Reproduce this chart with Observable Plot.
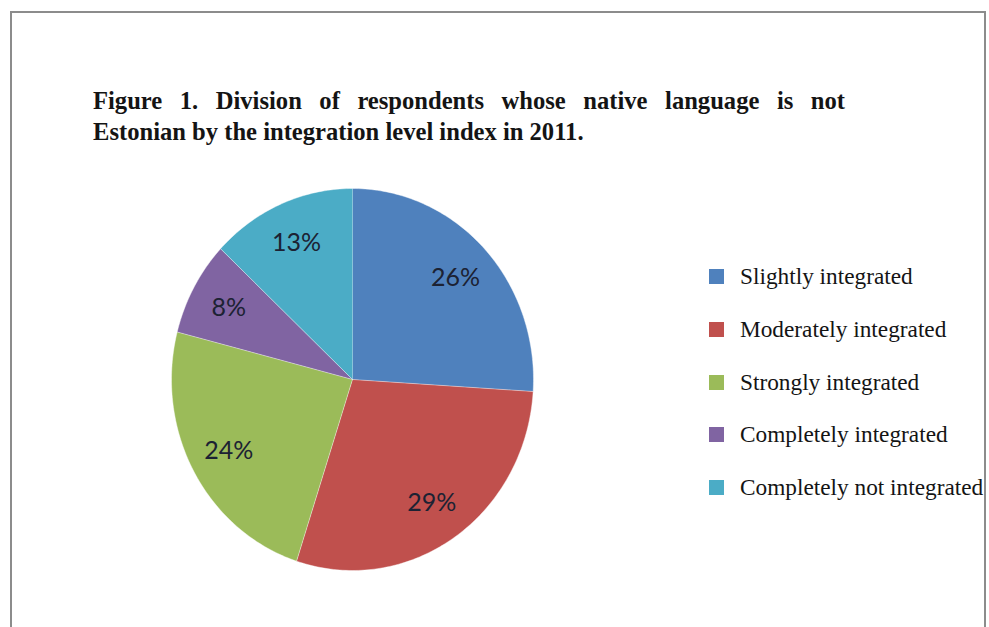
<!DOCTYPE html>
<html>
<head>
<meta charset="utf-8">
<script src="https://cdn.jsdelivr.net/npm/d3@7"></script>
<script src="https://cdn.jsdelivr.net/npm/@observablehq/plot@0.6"></script>
<style>
  body { margin: 0; background: #fff; }
  #frame { position: relative; width: 989px; height: 627px; overflow: hidden; background: #fff; }
  #border { position: absolute; left: 10px; top: 11px; width: 976px; height: 660px; border: 2px solid #8c8c8c; box-sizing: border-box; }
  #chart { position: absolute; left: 0; top: 0; }
  .tline { position: absolute; left: 93px; width: 752px; font: bold 24.6px "Liberation Serif", "Times New Roman", serif; color: #141414; white-space: nowrap; line-height: 31px; }
  #t1 { top: 85px; text-align: justify; text-align-last: justify; white-space: normal; }
  #t2 { top: 116px; }
  .lg { position: absolute; left: 709px; height: 20px; display: flex; align-items: center; font: 23.3px "Liberation Serif", "Times New Roman", serif; color: #141414; white-space: nowrap; }
  .lg .sw { width: 15px; height: 15px; margin-right: 16px; flex: none; }
</style>
</head>
<body>
<div id="frame">
  <div id="border"></div>
  <div id="chart"></div>
  <div class="tline" id="t1">Figure 1. Division of respondents whose native language is not</div>
  <div class="tline" id="t2">Estonian by the integration level index in 2011.</div>
  <div id="legend"></div>
</div>
<script>
const categories = ["Slightly integrated", "Moderately integrated", "Strongly integrated", "Completely integrated", "Completely not integrated"];
const shares = [26, 29, 24, 8, 13];
const labels = ["26%", "29%", "24%", "8%", "13%"];
const colors = ["#4F81BD", "#C0504D", "#9BBB59", "#8064A2", "#4BACC6"];
const legendY = [276, 329, 382, 434, 487];

const rows = categories.map((c, i) => ({category: c, share: shares[i], label: labels[i]}));
const arcs = d3.pie().sort(null).value(d => d.share)(rows);

// slice outlines (center + arc edge) in the unit-circle coordinate space
const slicePts = [];
const labelPts = [];
for (const a of arcs) {
  const cat = a.data.category;
  slicePts.push({category: cat, x: 0, y: 0});
  const n = Math.max(2, Math.ceil((a.endAngle - a.startAngle) / (Math.PI / 180)));
  for (let k = 0; k <= n; k++) {
    const t = a.startAngle + (a.endAngle - a.startAngle) * k / n;
    slicePts.push({category: cat, x: Math.sin(t), y: Math.cos(t)});
  }
  const m = (a.startAngle + a.endAngle) / 2;
  labelPts.push({label: a.data.label, x: 0.78 * Math.sin(m), y: 0.78 * Math.cos(m)});
}

const chart = Plot.plot({
  width: 989,
  height: 627,
  marginLeft: 171,
  marginRight: 456,
  marginTop: 188,
  marginBottom: 57,
  x: {domain: [-1, 1], axis: null},
  y: {domain: [-1, 1], axis: null},
  color: {domain: categories, range: colors},
  style: {background: "transparent"},
  marks: [
    Plot.line(slicePts, {x: "x", y: "y", z: "category", fill: "category", stroke: "#ffffff", strokeWidth: 0.6, strokeOpacity: 0.7}),
    Plot.text(labelPts, {x: "x", y: "y", text: "label", fontSize: 25, fontFamily: "Lato, 'Open Sans', sans-serif", fill: "#1c2233"})
  ]
});
document.getElementById("chart").appendChild(chart);

const legend = document.getElementById("legend");
categories.forEach((c, i) => {
  const row = document.createElement("div");
  row.className = "lg";
  row.style.top = (legendY[i] - 10) + "px";
  const sw = document.createElement("div");
  sw.className = "sw";
  sw.style.background = colors[i];
  const tx = document.createElement("span");
  tx.textContent = c;
  row.appendChild(sw);
  row.appendChild(tx);
  legend.appendChild(row);
});
</script>
</body>
</html>
